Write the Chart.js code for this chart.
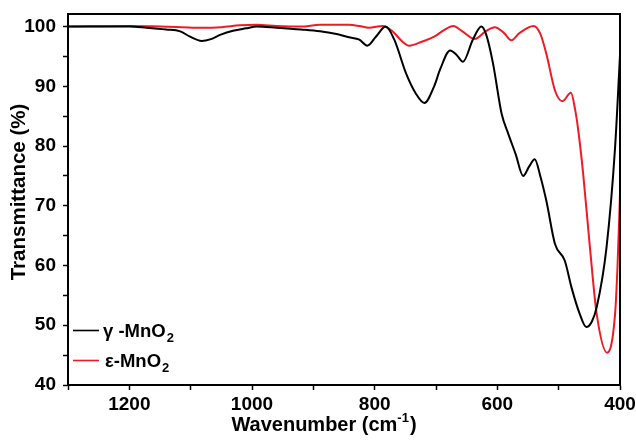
<!DOCTYPE html>
<html>
<head>
<meta charset="utf-8">
<script src="https://cdn.jsdelivr.net/npm/chart.js@4"></script>
<style>
  body { margin: 0; background: #fff; }
  canvas { display: block; }
</style>
</head>
<body>
<canvas id="irChart" width="636" height="442"></canvas>
<script>
// FTIR spectra of gamma / epsilon MnO2

// gamma-MnO2 (black)
const gammaWn = [1300, 1250, 1200, 1172, 1140, 1117, 1101, 1082, 1067, 1052, 1031, 1010, 992, 960, 920, 889, 860, 842, 825, 812, 798, 782, 768, 749, 733, 719, 703, 693, 677, 666, 656, 640, 626, 618, 607, 593, 582, 570, 558, 548, 539, 530, 520, 506, 490, 479, 466, 455, 446, 438, 422, 408, 400];
const gammaT  = [100, 100, 100, 99.8, 99.5, 99.2, 98.3, 97.6, 97.9, 98.6, 99.3, 99.7, 100, 99.8, 99.5, 99.2, 98.7, 98.2, 97.8, 96.8, 98.3, 100, 97.8, 92.2, 88.8, 87.2, 90, 92.9, 96, 95.2, 94.1, 97.8, 100, 98.6, 93.8, 85.4, 82, 78.6, 75, 76.6, 77.8, 75, 70.8, 63.6, 60.8, 56.3, 52, 49.7, 50.6, 53, 63, 79.8, 95.2];

// epsilon-MnO2 (red)
const epsWn = [1300, 1200, 1150, 1115, 1082, 1050, 1020, 992, 960, 920, 889, 842, 825, 809, 787, 771, 755, 744, 722, 703, 687, 672, 657, 637, 619, 604, 589, 577, 564, 541, 530, 520, 506, 494, 480, 473, 468, 460, 449, 438, 421, 408, 404, 400];
const epsT  = [100, 100.1, 100, 99.9, 99.8, 99.9, 100.2, 100.3, 100.1, 100, 100.3, 100.3, 100.1, 99.8, 100.1, 99.2, 97.5, 96.8, 97.5, 98.3, 99.4, 100.1, 99.2, 97.9, 99.2, 99.9, 98.9, 97.7, 98.9, 100.1, 98.8, 95.4, 89.3, 87.5, 88.9, 86, 82.6, 75.3, 63, 51.9, 45.4, 51.9, 60, 72];

// axes
const xTickValues = [1300, 1200, 1100, 1000, 900, 800, 700, 600, 500, 400];
const xTickLabels = [1200, 1000, 800, 600, 400];
const yTickValues = [40, 45, 50, 55, 60, 65, 70, 75, 80, 85, 90, 95, 100];
const yTickLabels = [40, 50, 60, 70, 80, 90, 100];

const seriesNames = ["γ -MnO", "ε-MnO"];
const seriesColors = ["#000000", "#ec1c24"];

const FONT = "'Liberation Sans', Arial, sans-serif";

function toPoints(xs, ys) {
  return xs.map((x, i) => ({ x: x, y: ys[i] }));
}

// frame round the plot + axis titles + legend (needs sub/superscripts)
const decorPlugin = {
  id: "decor",
  afterDatasetsDraw(chart) {
    const ctx = chart.ctx;
    const a = chart.chartArea;
    ctx.save();
    ctx.strokeStyle = "#000";
    ctx.lineWidth = 2;
    ctx.strokeRect(a.left, a.top, a.right - a.left, a.bottom - a.top);

    // legend
    const rows = [a.bottom - 54.5, a.bottom - 24.5];
    seriesNames.forEach((name, i) => {
      const y = rows[i];
      ctx.strokeStyle = seriesColors[i];
      ctx.lineWidth = 1.6;
      ctx.beginPath();
      ctx.moveTo(a.left + 5, y);
      ctx.lineTo(a.left + 31, y);
      ctx.stroke();
      ctx.fillStyle = "#000";
      ctx.font = "bold 18.5px " + FONT;
      ctx.textBaseline = "alphabetic";
      ctx.textAlign = "left";
      const tx = a.left + (i === 0 ? 35 : 37);
      ctx.fillText(name, tx, y + 6.5);
      const w = ctx.measureText(name).width;
      ctx.font = "bold 13px " + FONT;
      ctx.fillText("2", tx + w + 1, y + 11.5);
    });

    // x title with superscript
    ctx.fillStyle = "#000";
    ctx.textBaseline = "alphabetic";
    ctx.textAlign = "left";
    const main = "Wavenumber (cm";
    ctx.font = "bold 20px " + FONT;
    const w1 = ctx.measureText(main).width;
    const w3 = ctx.measureText(")").width;
    ctx.font = "bold 13px " + FONT;
    const w2 = ctx.measureText("-1").width;
    const total = w1 + w2 + w3 + 1;
    const cx = (a.left + a.right) / 2 - 20;
    let x = cx - total / 2;
    const base = a.bottom + 45.5;
    ctx.font = "bold 20px " + FONT;
    ctx.fillText(main, x, base);
    x += w1;
    ctx.font = "bold 13px " + FONT;
    ctx.fillText("-1", x, base - 9);
    x += w2 + 1;
    ctx.font = "bold 20px " + FONT;
    ctx.fillText(")", x, base);

    // y title
    ctx.save();
    ctx.translate(19.5, a.top + 178);
    ctx.rotate(-Math.PI / 2);
    ctx.font = "bold 20.5px " + FONT;
    ctx.textAlign = "center";
    ctx.textBaseline = "middle";
    ctx.fillText("Transmittance (%)", 0, 0);
    ctx.restore();

    ctx.restore();
  }
};

new Chart(document.getElementById("irChart").getContext("2d"), {
  type: "line",
  data: {
    datasets: [
      {
        label: "γ-MnO2",
        data: toPoints(gammaWn, gammaT),
        borderColor: seriesColors[0],
        borderWidth: 2,
        pointRadius: 0,
        fill: false,
        cubicInterpolationMode: "monotone"
      },
      {
        label: "ε-MnO2",
        data: toPoints(epsWn, epsT),
        borderColor: seriesColors[1],
        borderWidth: 2,
        pointRadius: 0,
        fill: false,
        cubicInterpolationMode: "monotone"
      }
    ]
  },
  options: {
    responsive: false,
    animation: false,
    layout: { padding: { left: 0, top: 14, right: 16, bottom: 0 } },
    plugins: {
      legend: { display: false },
      tooltip: { enabled: false }
    },
    scales: {
      x: {
        type: "linear",
        reverse: true,
        min: 400,
        max: 1300,
        afterBuildTicks: scale => {
          scale.ticks = xTickValues.map(v => ({ value: v }));
        },
        afterFit: scale => {
          scale.height = 57;
          scale.paddingLeft = 0;
          scale.paddingRight = 0;
        },
        ticks: {
          autoSkip: false,
          maxRotation: 0,
          padding: 3,
          color: "#000",
          font: { family: FONT, size: 19, weight: "bold" },
          callback: v => (xTickLabels.includes(v) ? String(v) : "")
        },
        grid: {
          drawOnChartArea: false,
          drawTicks: true,
          tickLength: 5,
          tickColor: "#000",
          tickWidth: 1.5
        },
        border: { display: true, color: "#000", width: 2 }
      },
      y: {
        min: 40,
        max: 102.1,
        afterBuildTicks: scale => {
          scale.ticks = yTickValues.map(v => ({ value: v }));
        },
        afterFit: scale => {
          scale.width = 68;
          scale.paddingTop = 0;
          scale.paddingBottom = 0;
        },
        ticks: {
          autoSkip: false,
          padding: 7,
          color: "#000",
          font: { family: FONT, size: 19, weight: "bold" },
          callback: v => (yTickLabels.includes(v) ? String(v) : "")
        },
        grid: {
          drawOnChartArea: false,
          drawTicks: true,
          tickLength: 5,
          tickColor: "#000",
          tickWidth: 1.5
        },
        border: { display: true, color: "#000", width: 2 }
      }
    }
  },
  plugins: [decorPlugin]
});
</script>
</body>
</html>
